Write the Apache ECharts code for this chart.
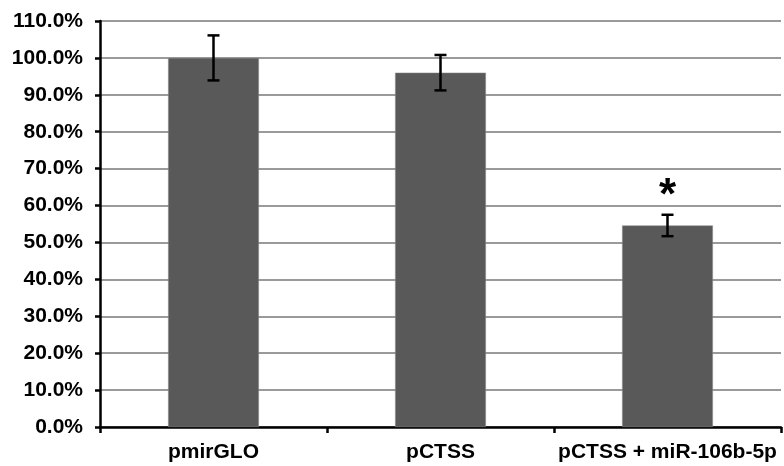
<!DOCTYPE html>
<html>
<head>
<meta charset="utf-8">
<script src="https://cdn.jsdelivr.net/npm/echarts@6/dist/echarts.min.js"></script>
<style>
  html, body { margin: 0; padding: 0; background: #fff; }
  #chart { width: 784px; height: 466px; }
</style>
</head>
<body>
<div id="chart"></div>
<script>
// data
var categories = ['pmirGLO', 'pCTSS', 'pCTSS + miR-106b-5p'];
var means = [100.0, 96.0, 54.6];
var errors = [6.1, 4.8, 2.9];
var marks = ['', '', '*'];
var yTicks = { min: 0, max: 110, interval: 10 };

var myChart = echarts.init(document.getElementById('chart'));
var font = '"Liberation Sans", Arial, sans-serif';

var errData = means.map(function (m, i) { return [i, m - errors[i], m + errors[i], marks[i]]; });

var option = {
  animation: false,
  grid: { left: 100, right: 3, top: 21, bottom: 39, containLabel: false },
  xAxis: {
    type: 'category',
    data: categories,
    axisLine: { lineStyle: { color: '#000', width: 2.5 } },
    axisTick: { show: true, alignWithLabel: false, length: 6, lineStyle: { color: '#000', width: 2.5 } },
    axisLabel: {
      interval: 0,
      hideOverlap: false,
      margin: 15,
      color: '#000',
      fontFamily: font,
      fontWeight: 'bold',
      fontSize: 21
    },
    splitLine: { show: false }
  },
  yAxis: {
    type: 'value',
    min: yTicks.min,
    max: yTicks.max,
    interval: yTicks.interval,
    axisLine: { show: true, lineStyle: { color: '#000', width: 2.5 } },
    axisTick: { show: true, length: 5, lineStyle: { color: '#000', width: 2.5 } },
    axisLabel: {
      margin: 17,
      color: '#000',
      fontFamily: font,
      fontWeight: 'bold',
      fontSize: 21,
      formatter: function (v) { return v.toFixed(1) + '%'; }
    },
    splitLine: { show: true, lineStyle: { color: '#9a9a9a', width: 2 } }
  },
  series: [
    {
      type: 'bar',
      data: means,
      barWidth: '40%',
      itemStyle: { color: '#595959', borderColor: '#8a8a8a', borderWidth: 0.5 }
    },
    {
      type: 'custom',
      data: errData,
      z: 10,
      renderItem: function (params, api) {
        var x = api.value(0);
        var lo = api.coord([x, api.value(1)]);
        var hi = api.coord([x, api.value(2)]);
        var cap = 6;
        var st = { stroke: '#000', lineWidth: 2.5 };
        var children = [
          { type: 'line', shape: { x1: lo[0], y1: lo[1], x2: hi[0], y2: hi[1] }, style: st },
          { type: 'line', shape: { x1: lo[0] - cap, y1: lo[1], x2: lo[0] + cap, y2: lo[1] }, style: st },
          { type: 'line', shape: { x1: hi[0] - cap, y1: hi[1], x2: hi[0] + cap, y2: hi[1] }, style: st }
        ];
        var mark = marks[params.dataIndex];
        if (mark) {
          children.push({
            type: 'text',
            style: {
              x: hi[0], y: hi[1] + 4,
              text: mark,
              fill: '#000',
              font: 'bold 44px ' + font,
              textAlign: 'center',
              textVerticalAlign: 'bottom'
            }
          });
        }
        return { type: 'group', children: children };
      }
    }
  ]
};
myChart.setOption(option);
</script>
</body>
</html>
